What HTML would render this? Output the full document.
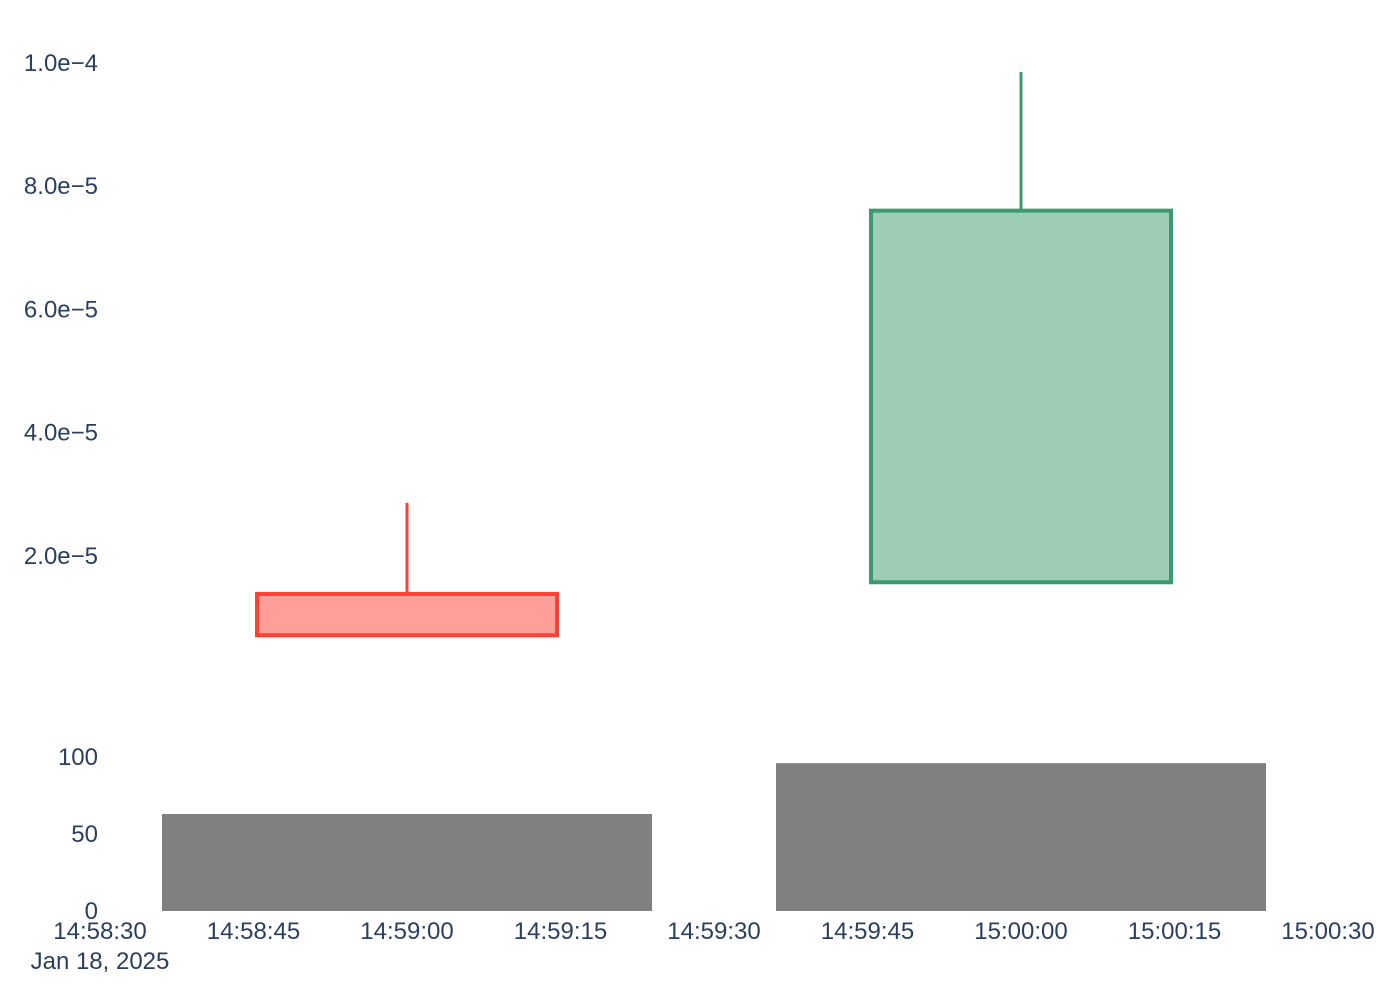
<!DOCTYPE html>
<html><head><meta charset="utf-8"><style>
body{margin:0;background:#fff;}
svg{font-family:"Liberation Sans",sans-serif;}
text{fill:#2a3f5f;font-size:24px;}
</style></head><body>
<svg id="chart" width="1400" height="1000"></svg>
<script>
const times=["14:59:00","15:00:00"];
const opens=[1.38e-5,1.57e-5];
const highs=[2.86e-5,9.85e-5];
const lows=[0.71e-5,1.57e-5];
const closes=[0.71e-5,7.6e-5];
const volumes=[63,96];
const xTicks=["14:58:30","14:58:45","14:59:00","14:59:15","14:59:30","14:59:45","15:00:00","15:00:15","15:00:30"];
const yTicks=[2e-5,4e-5,6e-5,8e-5,1e-4];
const yTickLabels=["2.0e−5","4.0e−5","6.0e−5","8.0e−5","1.0e−4"];
const vTicks=[0,50,100];

const NS="http://www.w3.org/2000/svg";
const svg=document.getElementById('chart');
function secs(t){const p=t.split(':').map(Number);return p[0]*3600+p[1]*60+p[2];}
const x0=secs("14:58:30"),x1=secs("15:00:30");
const X=s=>100+(s-x0)/(x1-x0)*1228;
const Y=v=>679-v/2e-5*123.25;
const V=v=>911-v*1.54;
function el(tag,attrs,parent){const e=document.createElementNS(NS,tag);for(const k in attrs)e.setAttribute(k,attrs[k]);(parent||svg).appendChild(e);return e;}

yTicks.forEach((v,i)=>{const t=el('text',{x:98,y:Y(v)+8,'text-anchor':'end'});t.textContent=yTickLabels[i];

});
vTicks.forEach(v=>{const t=el('text',{x:98,y:V(v)+8,'text-anchor':'end'});t.textContent=v;

});
xTicks.forEach(s=>{const t=el('text',{x:X(secs(s)),y:939,'text-anchor':'middle'});t.textContent=s;

});
const d=el('text',{x:100,y:969,'text-anchor':'middle'});d.textContent="Jan 18, 2025";



times.forEach((t,i)=>{
  const c=X(secs(t));
  const b=el('rect',{x:c-245,y:V(volumes[i]),width:490,height:V(0)-V(volumes[i]),fill:'#808080'});
  
  
  const up=closes[i]>=opens[i];
  const col=up?'#3d9970':'#ff4136',fill=up?'#9ecdb6':'#ff9f99';
  const top=Y(Math.max(opens[i],closes[i])),bot=Y(Math.min(opens[i],closes[i]));
  const w=el('line',{x1:c,x2:c,y1:Y(highs[i]),y2:top,stroke:col,'stroke-width':3});
  
  
  const w2=el('line',{x1:c,x2:c,y1:bot,y2:Y(lows[i]),stroke:col,'stroke-width':3});
  
  
  const r=el('rect',{x:c-150,y:top,width:300,height:bot-top,fill:fill,stroke:col,'stroke-width':4});
  
  
});
</script>
</body></html>
